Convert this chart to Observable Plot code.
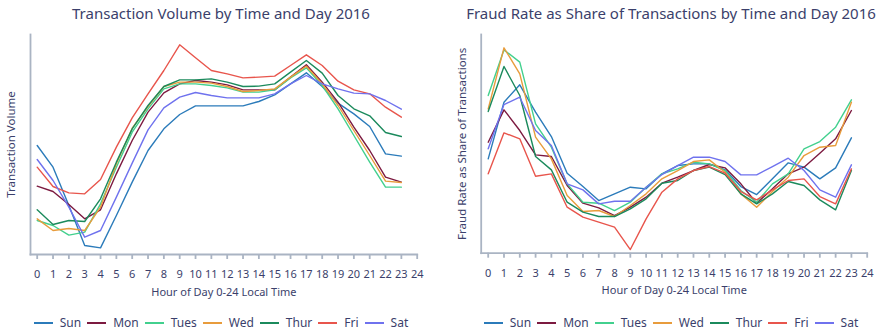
<!DOCTYPE html>
<html>
<head>
<meta charset="utf-8">
<script src="https://cdn.jsdelivr.net/npm/d3@7"></script>
<script src="https://cdn.jsdelivr.net/npm/@observablehq/plot@0.6"></script>
<style>
  body { margin: 0; background: #fff; font-family: "Noto Sans", sans-serif; }
  #page { position: relative; width: 879px; height: 332px; overflow: hidden; }
  .title { position: absolute; top: 3px; font-size: 15px; color: #3b3f6b; text-align: center; white-space: nowrap; }
  .chart { position: absolute; top: 24px; }
  .legend { position: absolute; top: 314px; display: flex; justify-content: center; align-items: center; font-size: 12px; color: #3b3f6b; white-space: nowrap; }
  .legend .item { display: flex; align-items: center; margin: 0 3px; }
  .legend .sw { width: 19px; height: 2px; margin-right: 7px; }
</style>
</head>
<body>
<div id="page"></div>
<script>
// ---- data ----
const hours = d3.range(0, 24);            // hour of day for each value
const tickHours = d3.range(0, 25);        // x tick labels 0..24
const days = ["Sun", "Mon", "Tues", "Wed", "Thur", "Fri", "Sat"];
const dayColors = ["#2b7bba", "#7c1a40", "#42d08e", "#e89c3c", "#1b8a5c", "#e8554c", "#6f72ee"];

// Transaction volume (relative index)
const volSun  = [327,262,147,27,20,117,217,312,377,420,446,446,446,446,459,479,512,545,504,454,422,384,302,295];
const volMon  = [205,189,150,107,134,242,342,427,485,512,522,517,509,494,494,494,532,569,517,457,382,312,232,217];
const volTues = [102,87,58,67,152,262,367,437,497,512,512,507,500,487,487,494,530,560,507,437,357,277,202,202];
const volWed  = [107,72,78,72,142,272,379,444,504,517,517,514,504,489,492,497,532,565,512,447,372,297,220,216];
const volThur = [134,90,102,99,167,277,377,447,504,524,524,527,517,504,505,512,547,582,544,477,437,416,366,354];
const volFri  = [262,204,185,182,225,322,410,482,552,629,590,552,542,530,532,535,567,599,567,520,494,482,442,412];
const volSat  = [285,222,142,52,72,172,274,374,440,472,486,477,470,470,470,482,512,537,512,497,484,482,462,436];

// Fraud rate as share of transactions (relative index)
const frSun  = [283,453,505,423,350,240,200,158,178,198,193,238,263,268,268,250,200,176,223,271,258,223,256,346];
const frMon  = [333,430,368,295,290,203,150,136,113,138,168,210,228,248,266,256,208,150,193,238,258,300,343,428];
const frTues = [473,610,573,388,318,208,153,150,128,153,198,238,253,273,268,248,188,153,208,238,313,335,378,460];
const frWed  = [433,616,538,348,283,173,125,128,110,143,178,223,248,275,280,243,178,138,185,228,293,318,323,453];
const frThur = [425,560,473,290,250,153,123,110,110,133,163,210,218,248,258,236,178,148,178,215,203,160,130,248];
const frFri  = [238,361,343,231,238,138,108,93,78,11,103,183,223,248,260,240,185,160,190,218,223,170,148,253];
const frSat  = [313,446,468,368,323,208,190,148,156,156,198,236,263,288,288,275,235,235,260,285,248,190,168,265];

const volSeries = [volSun, volMon, volTues, volWed, volThur, volFri, volSat];
const frSeries = [frSun, frMon, frTues, frWed, frThur, frFri, frSat];

function tidy(series) {
  const rows = [];
  series.forEach((vals, i) => vals.forEach((v, j) => rows.push({day: days[i], hour: hours[j], value: v})));
  return rows;
}

const textColor = "#3b3f6b";
const axisColor = "#aab4c3";

function makeChart(cfg) {
  return Plot.plot({
    width: cfg.width,
    height: 282,
    marginLeft: cfg.marginLeft,
    marginRight: cfg.marginRight,
    marginTop: 10,
    marginBottom: cfg.marginBottom,
    style: {fontFamily: '"Noto Sans", sans-serif', background: "transparent", overflow: "visible"},
    x: {domain: [0, 24], insetLeft: cfg.inset},
    y: {domain: cfg.yDomain},
    color: {domain: days, range: dayColors},
    marks: [
      Plot.frame({anchor: "left", stroke: axisColor, strokeWidth: 1.8}),
      Plot.frame({anchor: "bottom", stroke: axisColor, strokeWidth: 1.8}),
      Plot.axisX({ticks: tickHours, tickSize: 5, tickPadding: 11, stroke: axisColor, strokeWidth: 1.8, fill: textColor, fontSize: 11, label: null, tickFormat: d => String(d)}),
      Plot.axisY({ticks: [], label: null}),
      Plot.line(tidy(cfg.series), {x: "hour", y: "value", z: "day", stroke: "day", strokeWidth: 1.4}),
      Plot.text([cfg.xLabel], {text: d => d, frameAnchor: "bottom", dy: 41, fill: textColor, fontSize: 11}),
      Plot.text([cfg.yLabel], {text: d => d, frameAnchor: "left", textAnchor: "middle", rotate: -90, dx: -19, fill: textColor, fontSize: 11.5})
    ]
  });
}

function legend() {
  const el = document.createElement("div");
  el.className = "legend";
  days.forEach((d, i) => {
    const it = document.createElement("div");
    it.className = "item";
    const sw = document.createElement("span");
    sw.className = "sw";
    sw.style.background = dayColors[i];
    const lb = document.createElement("span");
    lb.textContent = d;
    it.appendChild(sw); it.appendChild(lb);
    el.appendChild(it);
  });
  return el;
}

const page = document.getElementById("page");

function panel(left, width, title, chart) {
  const t = document.createElement("div");
  t.className = "title";
  t.style.left = left + "px";
  t.style.width = width + "px";
  t.textContent = title;
  page.appendChild(t);
  const c = document.createElement("div");
  c.className = "chart";
  c.style.left = left + "px";
  c.appendChild(chart);
  page.appendChild(c);
  const l = legend();
  l.style.left = left + "px";
  l.style.width = width + "px";
  page.appendChild(l);
}

const left = makeChart({
  width: 440, marginLeft: 30, marginRight: 23.3, marginBottom: 52, inset: 6.7,
  yDomain: [0, 660], series: volSeries,
  xLabel: "Hour of Day 0-24 Local Time", yLabel: "Transaction Volume"
});
const right = makeChart({
  width: 439, marginLeft: 40.7, marginRight: 12.3, marginBottom: 53.3, inset: 7,
  yDomain: [0, 656], series: frSeries,
  xLabel: "Hour of Day 0-24 Local Time", yLabel: "Fraud Rate as Share of Transactions"
});

panel(0, 442, "Transaction Volume by Time and Day 2016", left);
panel(440, 462, "Fraud Rate as Share of Transactions by Time and Day 2016", right);
</script>
</body>
</html>
